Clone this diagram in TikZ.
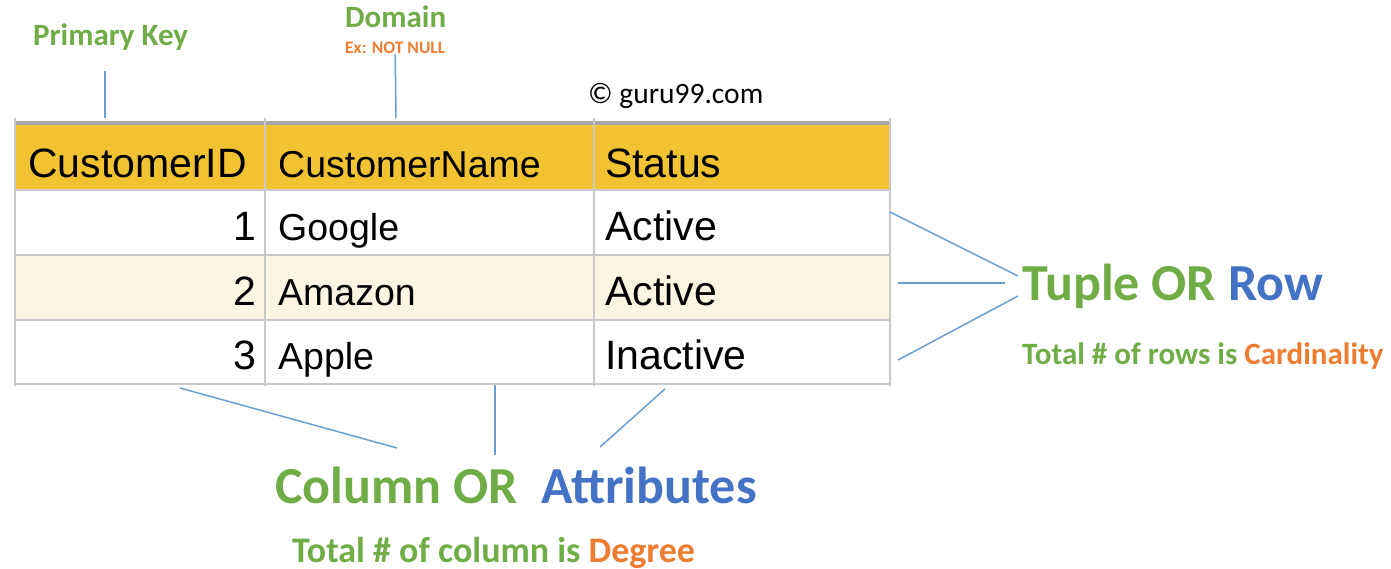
\documentclass[tikz,border=0pt]{standalone}
\usepackage{fontspec}
\setmainfont{Liberation Sans}
\newfontfamily\calib{Carlito}
\usetikzlibrary{calc}
\definecolor{keygreen}{HTML}{70AD47}
\definecolor{keyblue}{HTML}{4472C4}
\definecolor{keyorange}{HTML}{ED7D31}
\definecolor{headgold}{HTML}{F1C232}
\definecolor{rowcream}{HTML}{FBF5E1}
\definecolor{gridgrey}{HTML}{C8C8C8}
\definecolor{topgrey}{HTML}{A8A8A8}
\definecolor{pointblue}{HTML}{6A9FD2}

\begin{document}
\begin{tikzpicture}[x=1pt,y=-1pt,
              cell/.style={anchor=base west, inner sep=0pt, font=\fontsize{41}{45}\selectfont},
              namecell/.style={cell, font=\fontsize{37.5}{41}\selectfont},
              idcell/.style={cell, anchor=base east},
              tag/.style={anchor=base west, inner sep=0pt, text=keygreen, font=\calib\bfseries\fontsize{31}{34}\selectfont},
              bigtag/.style={tag, font=\calib\bfseries\fontsize{52}{56}\selectfont},
              pointer/.style={draw=pointblue, line width=1.5pt}
            ]
              \useasboundingbox (0,0) rectangle (1391,569);
              % table body
              \fill[headgold] (15,123) rectangle (890,190);
              \fill[rowcream] (15,255) rectangle (890,320);
              \foreach \y in {190,255,320,384}
                \draw[gridgrey, line width=2.5pt] (15,\y) -- (890,\y);
              \draw[topgrey, line width=4pt] (15,123) -- (890,123);
              \foreach \x in {15,265,594,890}
                \draw[gridgrey, line width=2pt] (\x,118) -- (\x,386);
              % header and rows
              \node[cell] (hid) at (28,178) {CustomerID};
              \node[namecell] (hname) at (278,178) {CustomerName};
              \node[cell] (hstat) at (605,178) {Status};
              \foreach \n/\name/\st/\y in {1/Google/Active/241, 2/Amazon/Active/305, 3/Apple/Inactive/369} {
                \node[idcell] (id\n) at (256,\y) {\n};
                \node[namecell] (name\n) at (278,\y) {\name};
                \node[cell] (stat\n) at (605,\y) {\st};
              }
              % labels
              \node[tag] (pk) at (33,46) {Primary Key};
              \node[tag] (dom) at (345,28) {Domain};
              \node[tag, text=keyorange, font=\calib\bfseries\fontsize{17.5}{20}\selectfont] (ex) at (345,54) {Ex: NOT NULL};
              \node[anchor=base west, inner sep=0pt, font=\calib\fontsize{29.5}{32}\selectfont] (copy) at (588,104) {© guru99.com};
              \node[bigtag] (tuple) at (1022,300) {Tuple OR \textcolor{keyblue}{Row}};
              \node[tag] (card) at (1022,364) {Total \# of rows is \textcolor{keyorange}{Cardinality}};
              \node[bigtag] (column) at (275,503) {Column OR\ \ \textcolor{keyblue}{Attributes}};
              \node[tag, font=\calib\bfseries\fontsize{36}{40}\selectfont] (degree) at (292,562) {Total \# of column is \textcolor{keyorange}{Degree}};
              % ends on the table
              \coordinate (pkfoot) at (105,118);
              \coordinate (domfoot) at (396,118);
              \coordinate (row1) at (890,212);
              \coordinate (row2) at (898,283);
              \coordinate (row3) at (898,360);
              \coordinate (col1) at (180,388);
              \coordinate (col2) at (495,385);
              \coordinate (col3) at (665,389);
              % connectors
              \draw[pointer, shorten <=20pt] (pk.south -| pkfoot) -- (pkfoot);
              \draw[pointer] (ex.south) -- (domfoot);
              \draw[pointer] (row1) -- ($(tuple.base west)+(-4,-24)$);
              \draw[pointer] (row2) -- ($(tuple.base west)+(-17,-17)$);
              \draw[pointer] (row3) -- ($(tuple.base west)+(-4,-4)$);
              \draw[pointer] (col1) -- ($(column.base west)+(122,-55)$);
              \draw[pointer] (col2) -- ($(column.base west)+(220,-48)$);
              \draw[pointer] (col3) -- ($(column.base west)+(325,-56)$);
            \end{tikzpicture}
\end{document}
